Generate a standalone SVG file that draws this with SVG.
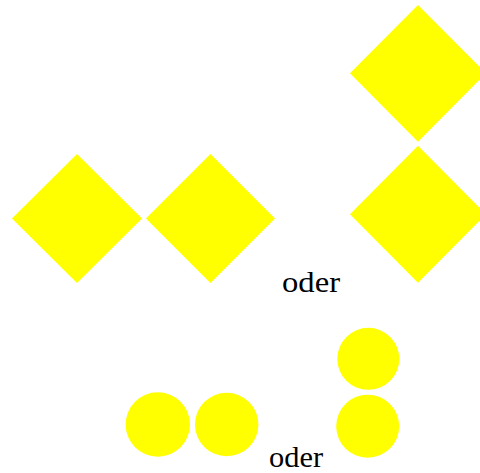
<svg xmlns="http://www.w3.org/2000/svg" width="480" height="473" viewBox="0 0 480 473">
<style>
.s{fill:#ffff00;stroke:none}
.t{font-family:"Liberation Serif","Times New Roman",serif;font-size:29px;fill:#000}
</style>
<rect width="480" height="473" fill="#fff"/>
<g id="diamond1"><polygon class="s" points="77,154 142,218.5 77,283 12,218.5"/></g>
<g id="diamond2"><polygon class="s" points="210.5,154 275,218.5 210.5,283 146,218.5"/></g>
<g id="diamond3"><polygon class="s" points="418,5 486,73.3 418,141.7 350,73.3"/></g>
<g id="diamond4"><polygon class="s" points="418,145.7 486,214.2 418,282.7 350,214.2"/></g>
<g id="label1"><text class="t" x="282" y="292" textLength="58" lengthAdjust="spacingAndGlyphs">oder</text></g>
<g id="circle1"><circle class="s" cx="157.8" cy="424.5" r="32.2"/></g>
<g id="circle2"><circle class="s" cx="226.7" cy="424.5" r="31.7"/></g>
<g id="circle3"><circle class="s" cx="368.3" cy="358.8" r="31"/></g>
<g id="circle4"><circle class="s" cx="367.7" cy="426.2" r="31.5"/></g>
<g id="label2"><text class="t" x="269" y="467" textLength="54" lengthAdjust="spacingAndGlyphs">oder</text></g>
<g id="connectors"></g>
</svg>
